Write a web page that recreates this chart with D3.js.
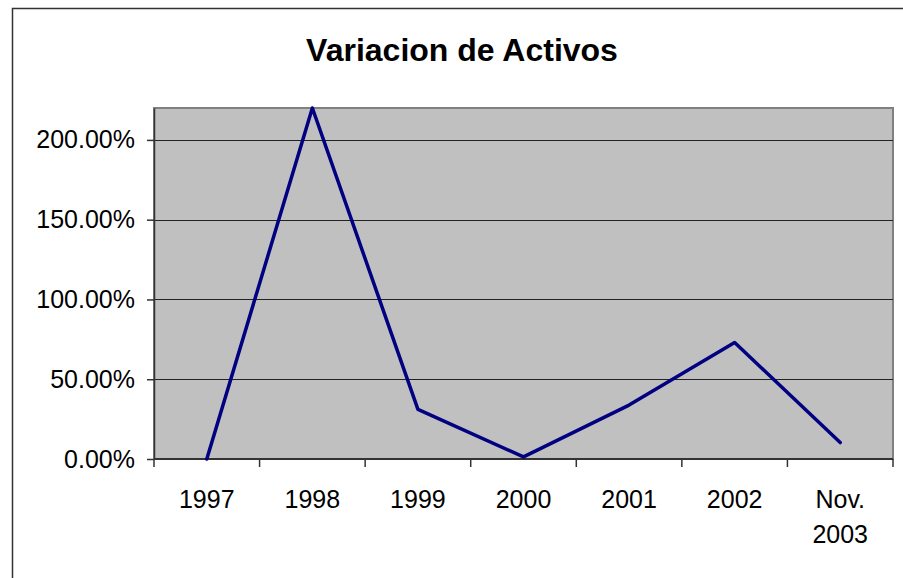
<!DOCTYPE html>
<html>
<head>
<meta charset="utf-8">
<script src="https://cdn.jsdelivr.net/npm/d3@7"></script>
<style>
  body { margin: 0; background: #fff; overflow: hidden; }
  text { font-family: "Liberation Sans", Arial, sans-serif; fill: #000; }
</style>
</head>
<body>
<script>
// data
const categories = ["1997", "1998", "1999", "2000", "2001", "2002", "Nov. 2003"];
const variacion = [0.0, 2.2, 0.311, 0.013, 0.338, 0.73, 0.103];
const yTicks = [0, 0.5, 1, 1.5, 2];
const title = "Variacion de Activos";

const width = 903, height = 578;
const plot = {left: 154, right: 893, top: 108, bottom: 459};

const svg = d3.select("body").append("svg")
    .attr("width", width)
    .attr("height", height);

// chart frame, cut off at right and bottom like the source
svg.append("rect")
    .attr("x", 12.5).attr("y", 8.5)
    .attr("width", width).attr("height", height)
    .attr("fill", "#fff")
    .attr("stroke", "#333")
    .attr("stroke-width", 1.5);

const x = d3.scaleBand()
    .domain(categories)
    .range([plot.left, plot.right])
    .padding(0);

const y = d3.scaleLinear()
    .domain([0, 2.2])
    .range([plot.bottom, plot.top]);

// plot area
svg.append("rect")
    .attr("x", plot.left).attr("y", plot.top)
    .attr("width", plot.right - plot.left)
    .attr("height", plot.bottom - plot.top)
    .attr("fill", "#c0c0c0")
    .attr("stroke", "#808080")
    .attr("stroke-width", 2);

// gridlines
svg.append("g")
    .selectAll("line")
    .data(yTicks.filter(d => d > 0))
    .join("line")
    .attr("x1", plot.left).attr("x2", plot.right)
    .attr("y1", d => Math.round(y(d)) + 0.5)
    .attr("y2", d => Math.round(y(d)) + 0.5)
    .attr("stroke", "#222")
    .attr("stroke-width", 1);

// y axis
const yAxis = svg.append("g")
    .attr("transform", `translate(${plot.left},0)`)
    .call(d3.axisLeft(y)
        .tickValues(yTicks)
        .tickFormat(d => (d * 100).toFixed(2) + "%")
        .tickSize(7)
        .tickPadding(12)
        .tickSizeOuter(0));
yAxis.select(".domain").attr("stroke", "#333").attr("stroke-width", 1.5);
yAxis.selectAll(".tick line").attr("stroke", "#333").attr("stroke-width", 1.5);
yAxis.selectAll("text")
    .attr("font-size", 25)
    .attr("font-family", "Liberation Sans, Arial, sans-serif")
    .attr("fill", "#000");

// x axis: ticks sit between categories
const xAxis = svg.append("g")
    .attr("transform", `translate(0,${plot.bottom})`);
xAxis.append("line")
    .attr("x1", plot.left).attr("x2", plot.right)
    .attr("stroke", "#333").attr("stroke-width", 2);
const bounds = categories.map(c => x(c)).concat([x(categories[categories.length - 1]) + x.bandwidth()]);
xAxis.selectAll("line.tk")
    .data(bounds)
    .join("line")
    .attr("class", "tk")
    .attr("x1", d => d).attr("x2", d => d)
    .attr("y1", 0).attr("y2", 8)
    .attr("stroke", "#333").attr("stroke-width", 1.5);

const labels = xAxis.selectAll("text")
    .data(categories)
    .join("text")
    .attr("text-anchor", "middle")
    .attr("font-size", 25);
labels.each(function (d) {
    const parts = d.split(" ");
    const t = d3.select(this);
    parts.forEach((p, i) => {
        t.append("tspan")
            .attr("x", x(d) + x.bandwidth() / 2)
            .attr("y", 49 + i * 35)
            .text(p);
    });
});

// series line
const line = d3.line()
    .x((d, i) => x(categories[i]) + x.bandwidth() / 2)
    .y(d => y(d));

svg.append("path")
    .datum(variacion)
    .attr("d", line)
    .attr("fill", "none")
    .attr("stroke", "#000080")
    .attr("stroke-width", 3.5)
    .attr("stroke-linejoin", "round")
    .attr("stroke-linecap", "round");

// title
svg.append("text")
    .attr("x", 462)
    .attr("y", 61)
    .attr("text-anchor", "middle")
    .attr("font-size", 32)
    .attr("font-weight", "bold")
    .text(title);
</script>
</body>
</html>
